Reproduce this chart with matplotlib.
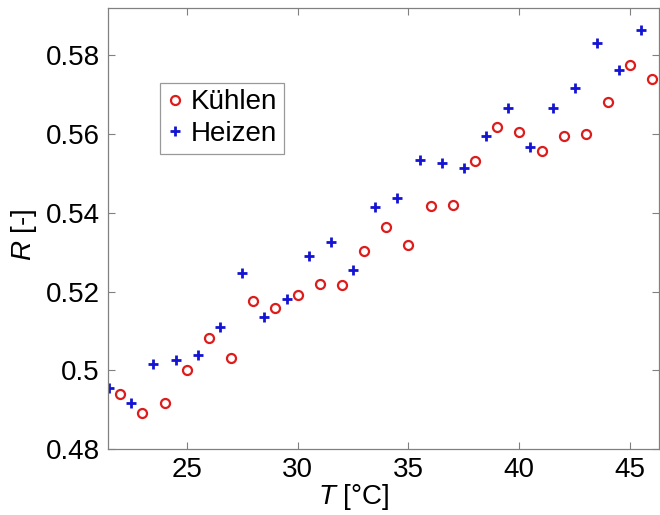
import numpy as np
import matplotlib
matplotlib.use('Agg')
import matplotlib.pyplot as plt
from matplotlib.ticker import FuncFormatter

''' Data '''
# Kuehlen: red circles at whole degrees
t_cool = [22, 23, 24, 25, 26, 27, 28, 29, 30, 31, 32, 33, 34, 35,
          36, 37, 38, 39, 40, 41, 42, 43, 44, 45, 46]
r_cool = [0.4939, 0.4891, 0.4916, 0.5001, 0.5081, 0.5030, 0.5177, 0.5158,
          0.5191, 0.5220, 0.5216, 0.5303, 0.5364, 0.5318, 0.5418, 0.5421,
          0.5532, 0.5617, 0.5604, 0.5558, 0.5595, 0.5601, 0.5681, 0.5776,
          0.5740]

# Heizen: blue plus signs at half degrees
t_heat = [21.5, 22.5, 23.5, 24.5, 25.5, 26.5, 27.5, 28.5, 29.5, 30.5,
          31.5, 32.5, 33.5, 34.5, 35.5, 36.5, 37.5, 38.5, 39.5, 40.5,
          41.5, 42.5, 43.5, 44.5, 45.5]
r_heat = [0.4956, 0.4916, 0.5016, 0.5025, 0.5040, 0.5109, 0.5246, 0.5136,
          0.5182, 0.5290, 0.5326, 0.5255, 0.5415, 0.5438, 0.5534, 0.5526,
          0.5514, 0.5596, 0.5667, 0.5568, 0.5667, 0.5717, 0.5831, 0.5763,
          0.5864]

x_ticks = [25, 30, 35, 40, 45]
y_ticks = [0.48, 0.50, 0.52, 0.54, 0.56, 0.58]

''' Style '''
plt.rcParams['font.family'] = ['Liberation Sans', 'DejaVu Sans']
plt.rcParams['mathtext.fontset'] = 'custom'
plt.rcParams['mathtext.it'] = 'Liberation Sans:italic'
plt.rcParams['mathtext.rm'] = 'Liberation Sans'

fig = plt.figure(figsize=(6.6, 5.15), dpi=100)
ax = fig.add_axes([0.1636, 0.128, 0.835, 0.8565])

ax.plot(t_cool, r_cool, linestyle='none', marker='o', markersize=6.5,
        markerfacecolor='none', markeredgecolor='#dd1c1c', markeredgewidth=1.6,
        label='Kühlen')
ax.plot(t_heat, r_heat, linestyle='none', marker='+', markersize=7,
        color='#1414d2', markeredgewidth=2.0, label='Heizen')

ax.set_xlim(21.45, 46.3)
ax.set_ylim(0.48, 0.592)
ax.set_xticks(x_ticks)
ax.set_yticks(y_ticks)
ax.yaxis.set_major_formatter(FuncFormatter(lambda v, p: '%g' % round(v, 2)))

# MATLAB-like box with inward ticks on all sides
ax.tick_params(direction='in', top=True, right=True, length=5, width=0.8,
               color='#808080', labelsize=20, pad=6)
for s in ax.spines.values():
    s.set_color('#808080')
    s.set_linewidth(0.9)

ax.set_xlabel(r'$T$ [°C]', fontsize=20)
ax.xaxis.set_label_coords(0.445, -0.075)
ax.set_ylabel(r'$R$ [-]', fontsize=20)
ax.yaxis.set_label_coords(-0.125, 0.485)

leg = ax.legend(loc='upper left', bbox_to_anchor=(0.094, 0.831), fontsize=20,
                frameon=True, fancybox=False, handlelength=0.6,
                handletextpad=0.25, borderpad=0.25, labelspacing=0.2,
                borderaxespad=0)
leg.get_frame().set_edgecolor('#808080')
leg.get_frame().set_linewidth(0.9)

fig.savefig('out.png', dpi=100)
